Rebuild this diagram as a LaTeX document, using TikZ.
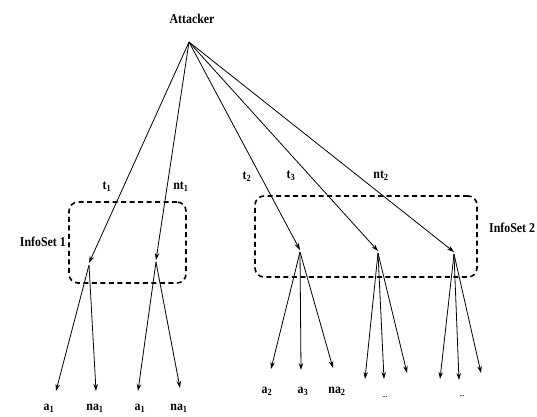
\documentclass[tikz,border=0pt]{standalone}
\usepackage{fontspec}
\setmainfont{Liberation Serif}[FakeStretch=0.88]
\usetikzlibrary{arrows.meta}
\newcommand{\sbs}[2]{#1\textsubscript{#2}}
\begin{document}
\begin{tikzpicture}[x=1pt,y=-1pt,
  edge/.style={line width=0.8pt,-{Stealth[length=7pt,width=4.5pt]}},
  infobox/.style={draw,line width=1.6pt,dash pattern=on 5pt off 3.5pt,rounded corners=9pt},
  lbl/.style={font=\fontsize{13.5}{14}\selectfont\bfseries,inner sep=0pt}]
\useasboundingbox (0,0) rectangle (537,416);
% root
\node[lbl] (att) at (192,19) {Attacker};
\coordinate (A) at (189,42);
% second level nodes
\coordinate (n1) at (89,263);
\coordinate (n2) at (156,260);
\coordinate (n3) at (300,250);
\coordinate (n4) at (378,251);
\coordinate (n5) at (454,252);
\draw[edge] (A) -- (n1);
\draw[edge] (A) -- (n2);
\draw[edge] (A) -- (n3);
\draw[edge] (A) -- (n4);
\draw[edge] (A) -- (n5);
% edge labels
\node[lbl] (lt1) at (107,187) {\sbs{t}{1}};
\node[lbl] (lnt1) at (181,187) {\sbs{nt}{1}};
\node[lbl] (lt2) at (247,177) {\sbs{t}{2}};
\node[lbl] (lt3) at (291,176) {\sbs{t}{3}};
\node[lbl] (lnt2) at (381,176) {\sbs{nt}{2}};
% information sets
\node[infobox,minimum width=117pt,minimum height=81pt] (is1) at (127.5,242.5) {};
\node[infobox,minimum width=222pt,minimum height=81pt] (is2) at (366,236.5) {};
\node[lbl,anchor=east] (lis1) at (66,242) {InfoSet 1};
\node[lbl,anchor=west] (lis2) at (489,228) {InfoSet 2};
% leaves
\coordinate (c11) at (56,391);
\coordinate (c12) at (96,391);
\coordinate (c21) at (138,391);
\coordinate (c22) at (180,388);
\coordinate (c31) at (271,369);
\coordinate (c32) at (301,370);
\coordinate (c33) at (333,368);
\coordinate (c41) at (365,379);
\coordinate (c42) at (384,379);
\coordinate (c43) at (407,373);
\coordinate (c51) at (440,379);
\coordinate (c52) at (459,380);
\coordinate (c53) at (481,373);
\foreach \p/\c in {n1/c11,n1/c12,n2/c21,n2/c22,n3/c31,n3/c32,n3/c33,n4/c41,n4/c42,n4/c43,n5/c51,n5/c52,n5/c53}
  \draw[edge] ([yshift=-2pt]\p) -- (\c);
% leaf labels
\node[lbl] (la11) at (49,408) {\sbs{a}{1}};
\node[lbl] (la12) at (95,408) {\sbs{na}{1}};
\node[lbl] (la21) at (140,408) {\sbs{a}{1}};
\node[lbl] (la22) at (179,408) {\sbs{na}{1}};
\node[lbl] (la31) at (267,391) {\sbs{a}{2}};
\node[lbl] (la32) at (303,391) {\sbs{a}{3}};
\node[lbl] (la33) at (337,391) {\sbs{na}{2}};
\node[lbl,font=\fontsize{7}{8}\selectfont\bfseries] (la4) at (385,397) {...};
\node[lbl,font=\fontsize{7}{8}\selectfont\bfseries] (la5) at (462,396) {...};
\end{tikzpicture}
\end{document}
